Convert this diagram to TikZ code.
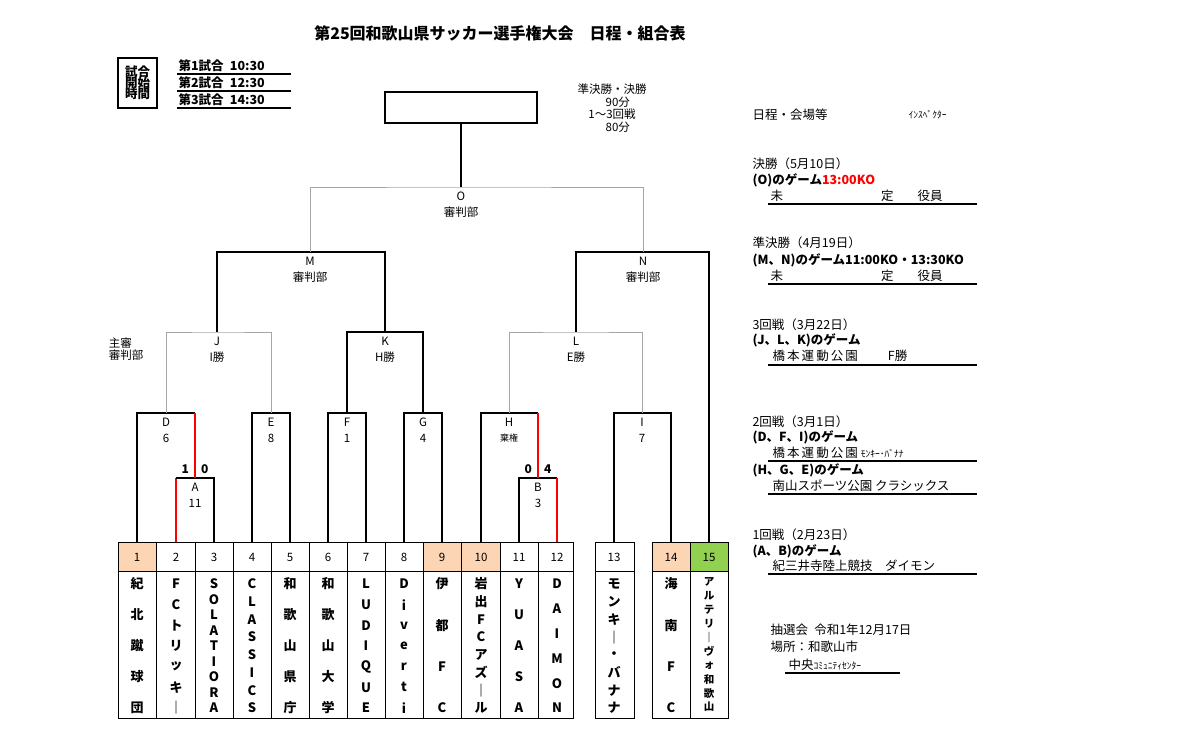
\documentclass[tikz,border=0pt]{standalone}
\usepackage{fontspec}
\setmainfont{Noto Sans CJK JP}
\usetikzlibrary{positioning}
\definecolor{seed}{HTML}{FCD5B4}
\definecolor{bye}{HTML}{92D050}
\tikzset{
  win/.style={red,line width=1.4pt},
  grayline/.style={gray!70,line width=0.9pt},
  lbl/.style={font=\fontsize{11.5}{12.5}\selectfont,inner sep=0pt},
  info/.style={font=\fontsize{12.5}{13}\selectfont,anchor=west,inner sep=0pt},
  infob/.style={info,font=\fontsize{12.5}{13}\selectfont\bfseries},
  tname/.style={font=\fontsize{13}{13}\selectfont\bfseries,inner sep=0pt}
}
\begin{document}
\begin{tikzpicture}[x=1pt,y=-1pt,line width=1.1pt]
\useasboundingbox (0,0) rectangle (1200,731);
\node[font=\fontsize{16}{17}\selectfont\bfseries] (title) at (500,33) {第25回和歌山県サッカー選手権大会\quad 日程・組合表};
% kick-off times
\draw (118,58) rectangle (157,108);
\node[font=\fontsize{12.5}{16}\selectfont\bfseries,align=left] (kick) at (137.5,83) {試合\\[-5pt]開始\\[-5pt]時間};
\foreach \y/\t in {66/第1試合\enspace 10:30,83/第2試合\enspace 12:30,100/第3試合\enspace 14:30}
  {\node[font=\fontsize{12.5}{13}\selectfont\bfseries,anchor=west,inner sep=0pt] at (178,\y) {\t};
   \draw (177,\y+8) -- (291,\y+8);}
\node[lbl,align=center] (dur) at (612,108) {準決勝・決勝\\\hspace*{1em}90分\\1〜3回戦\\\hspace*{1em}80分};
\node[lbl,align=left] (ref) at (126,349) {主審\\審判部};
% top box
\draw (385,92) rectangle (537,123);
\coordinate (top) at (461,123);
% team columns
\foreach \i/\x in {1/137,2/176,3/214,4/252,5/290,6/328,7/366,8/404,9/442,10/481,11/519,12/557,13/614,14/671,15/709}
  \coordinate (t\i) at (\x,542);
\foreach \i in {1,9,10,14} \fill[seed] ([xshift=-19pt]t\i) rectangle ([xshift=19pt,yshift=-29pt]t\i);
\fill[bye] ([xshift=-19pt]t15) rectangle ([xshift=19pt,yshift=-29pt]t15);
\draw[line width=0.8pt] (118,542) rectangle (573,718) (118,571) -- (573,571);
\draw[line width=0.8pt] (595,542) rectangle (634,718) (595,571) -- (634,571);
\draw[line width=0.8pt] (652,542) rectangle (728,718) (652,571) -- (728,571);
\foreach \x in {156,195,233,271,309,347,385,423,461,500,538} \draw[line width=0.8pt] (\x,542) -- (\x,718);
\draw[line width=0.8pt] (690,542) -- (690,718);
\foreach \i in {1,...,15} \node[lbl] (n\i) at ([yshift=-15pt]t\i) {\i};
\foreach \x/\n/\s in {137/5/{紀,北,蹴,球,団},176/7/{F,C,ト,リ,ッ,キ,｜},214/9/{S,O,L,A,T,I,O,R,A},
  252/8/{C,L,A,S,S,I,C,S},290/5/{和,歌,山,県,庁},328/5/{和,歌,山,大,学},366/7/{L,U,D,I,Q,U,E},
  404/7/{D,i,v,e,r,t,i},442/4/{伊,都,F,C},481/8/{岩,出,F,C,ア,ズ,｜,ル},519/5/{Y,U,A,S,A},
  557/6/{D,A,I,M,O,N},614/8/{モ,ン,キ,｜,・,バ,ナ,ナ},671/4/{海,南,F,C}}
  {\foreach \c [count=\k] in \s \node[tname] at (\x,{584+(\k-1)*124/(\n-1)}) {\c};}
\foreach \c [count=\k] in {ア,ル,テ,リ,｜,ヴ,ォ,和,歌,山}
  \node[tname,font=\fontsize{10.5}{10.5}\selectfont\bfseries] at (709,{582+(\k-1)*125/9}) {\c};
% match points
\coordinate (cA) at (195,478); \coordinate (cB) at (538,478);
\coordinate (cD) at (166,413); \coordinate (cE) at (271,413);
\coordinate (cF) at (347,413); \coordinate (cG) at (423,413);
\coordinate (cH) at (509,413); \coordinate (cI) at (642,413);
\coordinate (cJ) at (217,332); \coordinate (cK) at (385,332);
\coordinate (cL) at (576,332); \coordinate (cM) at (310,252);
\coordinate (cN) at (643,252); \coordinate (cO) at (461,187);
% round 1
\draw[win] (t2) -- (t2|-cA);
\draw (t2|-cA) -| (t3);
\draw (t11) |- (cB) -- (t12|-cB);
\draw[win] (t12|-cB) -- (t12);
% round 2
\draw (t1) |- (cA|-cD);
\draw[win] (cA|-cD) -- (cA);
\draw (t10) |- (cB|-cH);
\draw[win] (cB|-cH) -- (cB);
\draw (t4) |- (cE) -| (t5);
\draw (t6) |- (cF) -| (t7);
\draw (t8) |- (cG) -| (t9);
\draw (t13) |- (cI) -| (t14);
% round 3 and later
\draw[grayline] (cD) |- (cJ) -| (cE);
\draw (cF) |- (cK) -| (cG);
\draw[grayline] (cH) |- (cL) -| (cI);
\draw (cJ) |- (cM) -| (cK);
\draw (cL) |- (cN) -| (t15);
\draw[grayline] (cM) |- (cO) -| (cN);
\draw (cO) -- (top);
% labels
\foreach \m/\a/\b in {A/A/11,B/B/3,D/D/6,E/E/8,F/F/1,G/G/4,H/H/{\fontsize{9}{9}\selectfont 棄権},I/I/7,
  J/J/I勝,K/K/H勝,L/L/E勝,M/M/審判部,N/N/審判部,O/O/審判部}
  {\node[lbl] (l\m) at ([yshift=-9pt]c\m) {\a};
   \node[lbl] (v\m) at ([yshift=-25pt]c\m) {\b};}
\node[lbl,font=\fontsize{12}{12}\selectfont\bfseries] (sA) at (195,469) {1\hspace{12pt}0};
\node[lbl,font=\fontsize{12}{12}\selectfont\bfseries] (sB) at (538,469) {0\hspace{12pt}4};
% schedule
\node[info] (s0) at (752,115) {日程・会場等};
\node[info,font=\fontsize{9.5}{9.5}\selectfont] (insp) at (908,115) {ｲﾝｽﾍﾟｸﾀｰ};
\node[info] at (752,164) {決勝（5月10日）};
\node[infob] at (752,180) {(O)のゲーム\textcolor{red}{13:00KO}};
\node[info] at (770,196) {未\hspace{98pt}定\hspace{24pt}役員};
\node[info] at (752,243) {準決勝（4月19日）};
\node[infob] at (752,260) {(M、N)のゲーム11:00KO・13:30KO};
\node[info] at (770,276) {未\hspace{98pt}定\hspace{24pt}役員};
\node[info] at (752,325) {3回戦（3月22日）};
\node[infob] at (752,340) {(J、L、K)のゲーム};
\node[info] at (772,356) {橋\,本\,運\,動\,公\,園\hspace{30pt}F勝};
\node[info] at (752,422) {2回戦（3月1日）};
\node[infob] at (752,437) {(D、F、I)のゲーム};
\node[info] at (772,453) {橋\,本\,運\,動\,公\,園 {\fontsize{9.5}{9.5}\selectfont ﾓﾝｷｰ･ﾊﾞﾅﾅ}};
\node[infob] at (752,470) {(H、G、E)のゲーム};
\node[info] at (772,486) {南山スポーツ公園 クラシックス};
\node[info] at (752,535) {1回戦（2月23日）};
\node[infob] at (752,551) {(A、B)のゲーム};
\node[info] at (772,566) {紀三井寺陸上競技\quad ダイモン};
\foreach \y in {204,284,365,461,494,574} \draw (768,\y) -- (977,\y);
\node[info] at (770,630) {抽選会\enspace 令和1年12月17日};
\node[info] at (770,647) {場所：和歌山市};
\node[info] at (788,665) {中央{\fontsize{9.5}{9.5}\selectfont ｺﾐｭﾆﾃｨｾﾝﾀｰ}};
\draw (785,673) -- (900,673);
\end{tikzpicture}
\end{document}
